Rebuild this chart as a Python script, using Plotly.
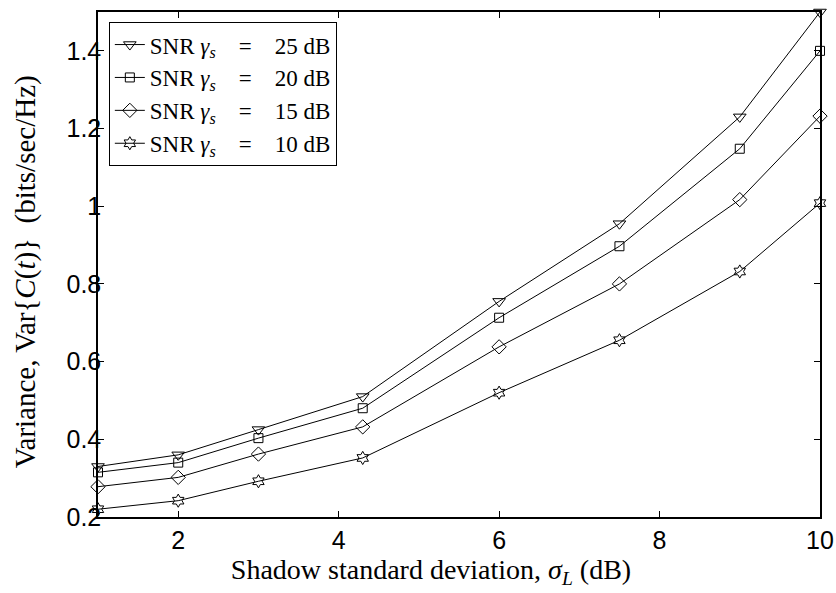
import plotly.graph_objects as go

x_sigma = [1, 2, 3, 4.3, 6, 7.5, 9, 10]
var_25 = [0.330, 0.360, 0.425, 0.510, 0.755, 0.955, 1.230, 1.500]
var_20 = [0.315, 0.340, 0.403, 0.480, 0.713, 0.897, 1.148, 1.400]
var_15 = [0.278, 0.302, 0.362, 0.432, 0.638, 0.800, 1.017, 1.232]
var_10 = [0.220, 0.242, 0.292, 0.352, 0.520, 0.655, 0.832, 1.008]
snr_db = [25, 20, 15, 10]
labels = ["SNR <i>γ<sub>s</sub></i>\u2003=\u2003%d dB" % s for s in snr_db]
symbols = ["triangle-down-open", "square-open", "diamond-open", "hexagram-open"]
msizes = [11, 9, 11, 10]
x_ticks = [2, 4, 6, 8, 10]
y_ticks = [0.2, 0.4, 0.6, 0.8, 1.0, 1.2, 1.4]
y_ticktext = ["0.2", "0.4", "0.6", "0.8", "1", "1.2", "1.4"]

serif = "Liberation Serif, DejaVu Serif, serif"
sans = "Liberation Sans, Arial, sans-serif"

fig = go.Figure()
for ys, lab, sym, ms in zip([var_25, var_20, var_15, var_10], labels, symbols, msizes):
    fig.add_trace(go.Scatter(
        x=x_sigma, y=ys, mode="lines+markers", name=lab,
        line=dict(color="black", width=1),
        marker=dict(symbol=sym, size=ms, color="black", line=dict(width=1, color="black")),
        cliponaxis=False,
    ))

axis_common = dict(showline=True, linecolor="black", linewidth=1.5, mirror="ticks",
                   ticks="inside", ticklen=6, tickcolor="black", showgrid=False,
                   zeroline=False, automargin=False,
                   tickfont=dict(family=sans, size=25, color="black"))

fig.update_xaxes(range=[1, 10], tickvals=x_ticks,
                 title=dict(text="Shadow standard deviation, <i>σ<sub>L</sub></i> (dB)\u2003\u2003\u200b",
                            font=dict(family=serif, size=28, color="black"), standoff=6),
                 **axis_common)
fig.update_yaxes(range=[0.2, 1.5], tickvals=y_ticks, ticktext=y_ticktext,
                 ticklabelstandoff=-10,
                 title=dict(text="Variance, Var{<i>C</i>(<i>t</i>)}\u2002(bits/sec/Hz)\u2002\u200b",
                            font=dict(family=serif, size=29, color="black"), standoff=22),
                 **axis_common)

fig.update_layout(
    width=836, height=593,
    margin=dict(l=98, r=16, t=12, b=76),
    plot_bgcolor="white", paper_bgcolor="white",
    showlegend=True,
    legend=dict(x=0.015, y=0.98, xanchor="left", yanchor="top",
                bgcolor="white", bordercolor="black", borderwidth=1,
                font=dict(family=serif, size=23, color="black"),
                tracegroupgap=0, itemwidth=30),
)

fig.write_html("out.html")
